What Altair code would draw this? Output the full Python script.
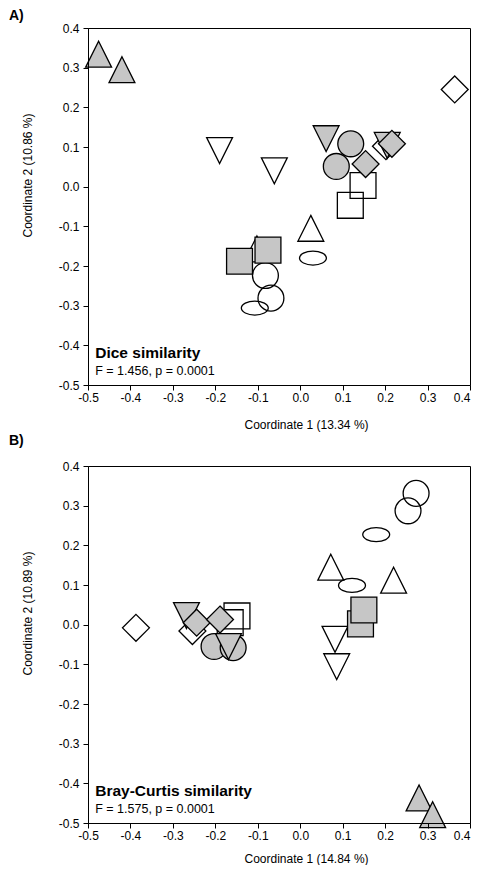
import altair as alt
import pandas as pd

TICKS = [-0.5, -0.4, -0.3, -0.2, -0.1, 0.0, 0.1, 0.2, 0.3, 0.4]

# ---- Panel A (Dice similarity) ----
a_x = [-0.475, -0.420, -0.190, -0.061, 0.364, 0.202, 0.148, 0.118, 0.025, 0.030,
       -0.102, -0.082, -0.069, -0.107,
       0.061, 0.205, 0.119, 0.085, 0.154, 0.216, -0.143, -0.076]
a_y = [0.334, 0.295, 0.091, 0.040, 0.245, 0.102, 0.003, -0.047, -0.105, -0.180,
       -0.157, -0.224, -0.281, -0.306,
       0.121, 0.104, 0.108, 0.051, 0.057, 0.108, -0.188, -0.160]
a_shape = ["triangle-up", "triangle-up", "triangle-down", "triangle-down", "diamond", "diamond",
           "square", "square", "triangle-up", "ellipse",
           "triangle-up", "circle", "circle", "ellipse",
           "triangle-down", "triangle-down", "circle", "circle", "diamond", "diamond", "square", "square"]
a_fill = ["gray", "gray", "open", "open", "open", "open", "open", "open", "open", "open",
          "open", "open", "open", "open",
          "gray", "gray", "gray", "gray", "gray", "gray", "gray", "gray"]

# ---- Panel B (Bray-Curtis similarity) ----
b_x = [0.273, 0.254, 0.179, 0.072, 0.122, 0.220, 0.082, 0.086, -0.387, -0.254, -0.149, -0.165,
       -0.268, -0.244, -0.189, -0.203, -0.158, -0.169, 0.142, 0.150, 0.280, 0.312]
b_y = [0.331, 0.287, 0.227, 0.145, 0.099, 0.112, -0.037, -0.106, -0.008, -0.016, 0.022, 0.005,
       0.023, 0.005, 0.013, -0.055, -0.058, -0.055, 0.002, 0.037, -0.437, -0.479]
b_shape = ["circle", "circle", "ellipse", "triangle-up", "ellipse", "triangle-up",
           "triangle-down", "triangle-down", "diamond", "diamond", "square", "square",
           "triangle-down", "diamond", "diamond", "circle", "circle", "triangle-down",
           "square", "square", "triangle-up", "triangle-up"]
b_fill = ["open"] * 12 + ["gray"] * 10

panel_labels = ["A)", "B)"]
panel_titles = ["Dice similarity", "Bray-Curtis similarity"]
panel_stats = ["F = 1.456, p = 0.0001", "F = 1.575, p = 0.0001"]
x_titles = ["Coordinate 1 (13.34 %)", "Coordinate 1 (14.84 %)"]
y_titles = ["Coordinate 2 (10.86 %)", "Coordinate 2 (10.89 %)"]

SHAPE_NAMES = ["circle", "square", "triangle-up", "triangle-down", "diamond", "ellipse"]
SHAPE_PATHS = [
    "circle",
    "M-1,-1L1,-1L1,1L-1,1Z",
    "M0,-1L1,1L-1,1Z",
    "M-1,-1L1,-1L0,1Z",
    "M0,-1.04L1.04,0L0,1.04L-1.04,0Z",
    "M-1.04,0C-1.04,-0.3,-0.574,-0.54,0,-0.54C0.574,-0.54,1.04,-0.3,1.04,0"
    "C1.04,0.3,0.574,0.54,0,0.54C-0.574,0.54,-1.04,0.3,-1.04,0Z",
]

FONT = "Liberation Sans"
W, H = 382, 357
LABEL_EXPR = "datum.value < 0 ? '-' + format(-datum.value, '.1f') : format(datum.value, '.1f')"


def panel(xs, ys, shapes, fills, idx):
    df = pd.DataFrame({"x": xs, "y": ys, "shape": shapes, "fill": fills})
    xscale = alt.Scale(domain=[-0.5, 0.4], nice=False, zero=False)
    yscale = alt.Scale(domain=[-0.5, 0.4], nice=False, zero=False)
    xaxis = alt.Axis(values=TICKS, labelExpr=LABEL_EXPR, title=x_titles[idx], grid=False,
                     tickSize=5, labelPadding=2, titleX=218, titleY=43 if idx == 0 else 39,
                     labelOverlap=False, labelFlush=False,
                     labelAlign={"condition": {"test": "datum.value > 0.35", "value": "right"},
                                 "value": "center"},
                     titleAlign="center", titleBaseline="alphabetic", zindex=1)
    yaxis = alt.Axis(values=TICKS, labelExpr=LABEL_EXPR, title=y_titles[idx], grid=False,
                     tickSize=5, labelPadding=4, titleX=-56.5, titleY=147, titleAngle=270,
                     labelOverlap=False, labelFlush=False,
                     titleAlign="center", titleBaseline="alphabetic", zindex=1)
    X = alt.X("x:Q", scale=xscale, axis=xaxis)
    Y = alt.Y("y:Q", scale=yscale, axis=yaxis)
    pts = alt.Chart(df).mark_point(filled=False, opacity=1, stroke="black", strokeWidth=1.3,
                                   size=670).encode(
        x=X, y=Y,
        shape=alt.Shape("shape:N", scale=alt.Scale(domain=SHAPE_NAMES, range=SHAPE_PATHS), legend=None),
        fill=alt.Fill("fill:N", scale=alt.Scale(domain=["gray", "open"], range=["#c6c6c6", "transparent"]),
                      legend=None),
    )
    tdf = pd.DataFrame({"x": [-0.483], "y": [-0.433], "t": [panel_titles[idx]]})
    sdf = pd.DataFrame({"x": [-0.483], "y": [-0.476], "t": [panel_stats[idx]]})
    ldf = pd.DataFrame({"t": [panel_labels[idx]]})
    ttl = alt.Chart(tdf).mark_text(align="left", baseline="alphabetic", font=FONT, fontSize=15.5,
                                   fontWeight="bold", color="black").encode(x=X, y=Y, text="t:N")
    st = alt.Chart(sdf).mark_text(align="left", baseline="alphabetic", font=FONT, fontSize=12.5,
                                  color="black").encode(x=X, y=Y, text="t:N")
    lab = alt.Chart(ldf).mark_text(align="left", baseline="top", font=FONT, fontSize=14,
                                   fontWeight="bold", color="black").encode(
        x=alt.value(-79), y=alt.value(-32 if idx == 1 else -19), text="t:N")
    return alt.layer(pts, ttl, st, lab).properties(width=W, height=H)


chart = alt.vconcat(
    panel(a_x, a_y, a_shape, a_fill, 0),
    panel(b_x, b_y, b_shape, b_fill, 1),
    spacing=2,
).properties(padding=0).configure_view(stroke="black", strokeWidth=1).configure_axis(
    labelFont=FONT, titleFont=FONT, labelFontSize=12, titleFontSize=12,
    labelColor="black", titleColor="black", titleFontWeight="normal",
    domainColor="black", tickColor="black", domainWidth=1, tickWidth=1,
    labelOverlap=False,
)

chart.save("out.html", embed_options={"renderer": "svg", "actions": False})
